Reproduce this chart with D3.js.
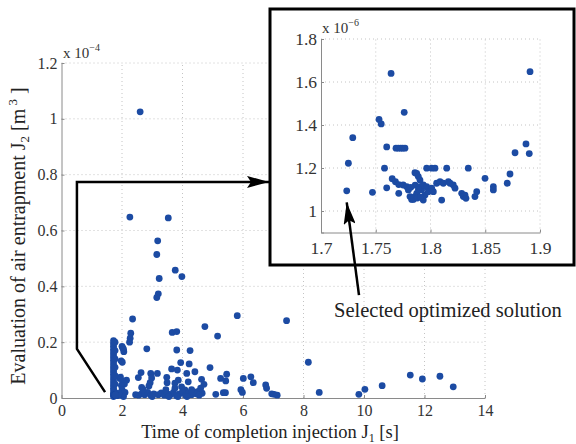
<!DOCTYPE html>
<html>
<head>
<script src="https://cdn.jsdelivr.net/npm/d3@7/dist/d3.min.js"></script>
<style>
  body { margin: 0; background: #fff; }
  svg text { font-family: "Liberation Serif", "Times New Roman", serif; }
</style>
</head>
<body>
<div id="canvas"></div>
<script>
// main plot: J1 [s] vs J2 [x 1e-4 m^3]
const mainX = [2.60, 2.26, 3.53, 3.18, 3.15, 3.76, 3.98, 3.23, 3.20, 3.15,
  2.35, 5.81, 7.44, 4.74, 5.16, 3.66, 3.81, 2.29, 2.27, 2.25,
  2.82, 3.81, 4.25, 2.02, 2.06, 1.97, 2.01, 3.94, 4.22, 4.91,
  3.64, 3.83, 8.16, 2.63, 2.95, 3.17, 4.14, 4.41, 5.46, 2.54,
  2.98, 3.48, 3.49, 3.86, 3.75, 2.93, 2.89, 4.19, 4.63, 4.71,
  5.26, 5.43, 1.93, 2.15, 2.65, 6.01, 6.26, 6.34, 5.93, 5.98,
  6.75, 6.78, 6.95, 7.03, 7.13, 5.35, 5.42, 5.10, 8.52, 9.83,
  10.03, 10.60, 11.53, 11.93, 12.51, 12.95, 3.97, 4.08, 4.36, 4.52,
  4.60, 4.65, 2.45, 2.55, 2.65, 2.75, 2.85, 2.95, 3.05, 3.20,
  3.30, 3.40, 3.50, 3.60, 3.70, 3.80, 3.90, 4.00, 4.10, 4.20,
  4.30, 4.45, 4.55, 2.70, 3.45, 3.75, 4.30, 3.55, 3.85, 3.00,
  4.15, 2.00, 2.05, 1.95, 2.02, 2.08, 1.98, 2.00, 2.10, 1.95,
  2.05, 1.72, 1.72, 1.72, 1.72, 1.72, 1.72, 1.72, 1.72, 1.72,
  1.72, 1.72, 1.72, 1.72, 1.72, 1.72, 1.72, 1.72, 1.72, 1.72,
  1.72, 1.72, 1.77, 1.77, 1.77, 1.77, 1.77, 1.77, 1.77];
const mainY = [1.025, 0.648, 0.645, 0.563, 0.514, 0.458, 0.435, 0.428, 0.373, 0.360,
  0.283, 0.295, 0.277, 0.256, 0.222, 0.235, 0.238, 0.232, 0.214, 0.200,
  0.176, 0.172, 0.170, 0.180, 0.166, 0.133, 0.128, 0.127, 0.122, 0.109,
  0.104, 0.100, 0.128, 0.091, 0.088, 0.088, 0.088, 0.094, 0.085, 0.073,
  0.072, 0.074, 0.055, 0.064, 0.053, 0.055, 0.043, 0.058, 0.067, 0.049,
  0.070, 0.061, 0.070, 0.064, 0.038, 0.070, 0.076, 0.055, 0.030, 0.020,
  0.047, 0.035, 0.015, 0.013, 0.010, 0.019, 0.019, 0.013, 0.020, 0.013,
  0.031, 0.044, 0.082, 0.068, 0.078, 0.040, 0.040, 0.029, 0.023, 0.024,
  0.035, 0.017, 0.012, 0.010, 0.015, 0.012, 0.020, 0.010, 0.015, 0.012,
  0.018, 0.010, 0.015, 0.012, 0.020, 0.008, 0.015, 0.022, 0.010, 0.018,
  0.012, 0.015, 0.010, 0.030, 0.030, 0.035, 0.030, 0.005, 0.005, 0.005,
  0.005, 0.185, 0.175, 0.075, 0.060, 0.050, 0.045, 0.030, 0.020, 0.010,
  0.005, 0.205, 0.195, 0.185, 0.175, 0.165, 0.155, 0.145, 0.135, 0.125,
  0.115, 0.105, 0.095, 0.085, 0.075, 0.065, 0.055, 0.045, 0.035, 0.025,
  0.015, 0.005, 0.200, 0.170, 0.140, 0.110, 0.080, 0.050, 0.020];

// inset: zoom on the front, J2 in x 1e-6
const insetX = [1.7235, 1.725, 1.729, 1.747, 1.753, 1.755, 1.758, 1.760, 1.760, 1.764,
  1.765, 1.768, 1.7685, 1.7706, 1.7728, 1.7746, 1.7767, 1.776, 1.771, 1.771,
  1.775, 1.7783, 1.7798, 1.7813, 1.7828, 1.7843, 1.7858, 1.7874, 1.7858, 1.7874,
  1.7889, 1.7904, 1.7904, 1.7919, 1.7934, 1.7934, 1.7950, 1.7965, 1.7965, 1.7980,
  1.8011, 1.8026, 1.8011, 1.8041, 1.8056, 1.8087, 1.8102, 1.8117, 1.8148, 1.8163,
  1.8178, 1.8208, 1.8224, 1.8285, 1.8300, 1.8315, 1.8324, 1.8345, 1.8406, 1.8422,
  1.8498, 1.8574, 1.8574, 1.8701, 1.8726, 1.8772, 1.8872, 1.8902, 1.8909, 1.7845,
  1.7880, 1.7910, 1.7860, 1.7820, 1.7890];
const insetY = [1.094, 1.222, 1.341, 1.087, 1.426, 1.405, 1.199, 1.298, 1.108, 1.640,
  1.150, 1.136, 1.292, 1.292, 1.292, 1.292, 1.292, 1.459, 1.082, 1.123,
  1.121, 1.113, 1.098, 1.067, 1.054, 1.054, 1.067, 1.082, 1.178, 1.175,
  1.160, 1.144, 1.113, 1.098, 1.121, 1.051, 1.074, 1.113, 1.199, 1.090,
  1.106, 1.090, 1.199, 1.199, 1.129, 1.136, 1.051, 1.129, 1.199, 1.136,
  1.129, 1.121, 1.106, 1.082, 1.067, 1.074, 1.059, 1.199, 1.067, 1.090,
  1.152, 1.113, 1.098, 1.129, 1.172, 1.271, 1.312, 1.267, 1.648, 1.062,
  1.060, 1.065, 1.120, 1.110, 1.100];

const mainXTicks = [0, 2, 4, 6, 8, 10, 12, 14];
const mainYTicks = [0, 0.2, 0.4, 0.6, 0.8, 1, 1.2];
const insetXTicks = [1.7, 1.75, 1.8, 1.85, 1.9];
const insetYTicks = [1, 1.2, 1.4, 1.6, 1.8];

const W = 576, H = 444;
const FONT = '"Liberation Serif", "Times New Roman", serif';
const dotColor = '#1c4ba3';
const gridColor = '#c4c4c4';
const axisColor = '#8a8a8a';

const svg = d3.select('#canvas').append('svg')
  .attr('width', W).attr('height', H)
  .attr('font-family', FONT);

svg.append('defs').append('marker')
  .attr('id', 'head')
  .attr('markerUnits', 'userSpaceOnUse')
  .attr('markerWidth', 24).attr('markerHeight', 12)
  .attr('refX', 22).attr('refY', 6)
  .attr('orient', 'auto')
  .append('path')
  .attr('d', 'M0,0 L22,6 L0,12 L4,6 Z')
  .attr('fill', '#000');

// draws one panel: grid, axes, dots
function panel(x, y, xTicks, yTicks, xs, ys, fmtX, fmtY, xPad, fs) {
  const g = svg.append('g');
  const [x0, x1] = x.range();
  const [y0, y1] = y.range();

  g.selectAll('.vg').data(xTicks.slice(1)).enter().append('line')
    .attr('x1', d => x(d)).attr('x2', d => x(d))
    .attr('y1', y0).attr('y2', y1)
    .attr('stroke', gridColor).attr('stroke-dasharray', '1,3');
  g.selectAll('.hg').data(yTicks.filter(d => y(d) < y0 - 1)).enter().append('line')
    .attr('x1', x0).attr('x2', x1)
    .attr('y1', d => y(d)).attr('y2', d => y(d))
    .attr('stroke', gridColor).attr('stroke-dasharray', '1,3');

  const ax = g.append('g').attr('transform', `translate(0,${y0})`)
    .call(d3.axisBottom(x).tickValues(xTicks).tickFormat(fmtX)
      .tickSizeInner(-3).tickSizeOuter(0).tickPadding(xPad));
  const ay = g.append('g').attr('transform', `translate(${x0},0)`)
    .call(d3.axisLeft(y).tickValues(yTicks).tickFormat(fmtY)
      .tickSizeInner(-3).tickSizeOuter(0).tickPadding(4));
  [ax, ay].forEach(a => {
    a.attr('font-family', FONT).attr('font-size', fs);
    a.select('.domain').attr('stroke', axisColor);
    a.selectAll('.tick line').attr('stroke', axisColor);
    a.selectAll('.tick text').attr('fill', '#333');
  });

  g.selectAll('.dot').data(xs.map((d, i) => [d, ys[i]])).enter().append('circle')
    .attr('cx', d => x(d[0])).attr('cy', d => y(d[1]))
    .attr('r', 3.4).attr('fill', dotColor);
  return g;
}

function expLabel(x, y, power) {
  const t = svg.append('text').attr('x', x).attr('y', y)
    .attr('fill', '#333').attr('font-size', 15);
  t.append('tspan').text('x 10');
  t.append('tspan').attr('dy', -7).attr('font-size', 10).text('\u2212' + power);
}

// main axes
const x = d3.scaleLinear().domain([0, 14]).range([61.5, 485]);
const y = d3.scaleLinear().domain([0, 1.2]).range([398, 63]);
const allX = mainX.concat(insetX);
const allY = mainY.concat(insetY.map(v => v / 100));
panel(x, y, mainXTicks, mainYTicks, allX, allY, d3.format('d'), d => d3.format('~g')(d), 7, 16);
expLabel(63, 58, 4);

// axis titles
const xt = svg.append('text').attr('x', 270).attr('y', 438)
  .attr('text-anchor', 'middle').attr('fill', '#222').attr('font-size', 18.5);
xt.append('tspan').text('Time of completion injection J');
xt.append('tspan').attr('dy', 4).attr('font-size', 12).text('1');
xt.append('tspan').attr('dy', -4).text('  [s]');

const yt = svg.append('text')
  .attr('transform', 'translate(25,236) rotate(-90)')
  .attr('text-anchor', 'middle').attr('fill', '#222').attr('font-size', 20);
yt.append('tspan').text('Evaluation of air entrapment J');
yt.append('tspan').attr('dy', 4).attr('font-size', 13).text('2');
yt.append('tspan').attr('dy', -4).text(' [m');
yt.append('tspan').attr('dy', -8).attr('font-size', 13).text(' 3');
yt.append('tspan').attr('dy', 8).text(' ]');

// inset box
svg.append('rect').attr('x', 270).attr('y', 9).attr('width', 304).attr('height', 256)
  .attr('fill', '#fff').attr('stroke', '#000').attr('stroke-width', 3);

const xi = d3.scaleLinear().domain([1.7, 1.9]).range([321, 540]);
const yi = d3.scaleLinear().domain([0.9, 1.8]).range([232.5, 39]);
panel(xi, yi, insetXTicks, [0.9].concat(insetYTicks), insetX, insetY,
  d => d3.format('~g')(d), d => d === 0.9 ? '' : d3.format('~g')(d), 9, 17.5);
expLabel(322, 33, 6);

// arrow from the front to the inset
const line = d3.line();
svg.append('path')
  .attr('d', line([[x(1.44), y(0.021)], [x(0.51), y(0.176)], [x(0.51), y(0.774)], [269, y(0.774)]]))
  .attr('fill', 'none').attr('stroke', '#000').attr('stroke-width', 2.5)
  .attr('marker-end', 'url(#head)');

// arrow to the selected solution
svg.append('path')
  .attr('d', line([[xi(1.7347), yi(0.609)], [xi(1.7235), yi(1.04)]]))
  .attr('fill', 'none').attr('stroke', '#000').attr('stroke-width', 2.5)
  .attr('marker-end', 'url(#head)');

svg.append('text').attr('x', 334).attr('y', 317)
  .attr('fill', '#222').attr('font-size', 20.5)
  .text('Selected optimized solution');
</script>
</body>
</html>
